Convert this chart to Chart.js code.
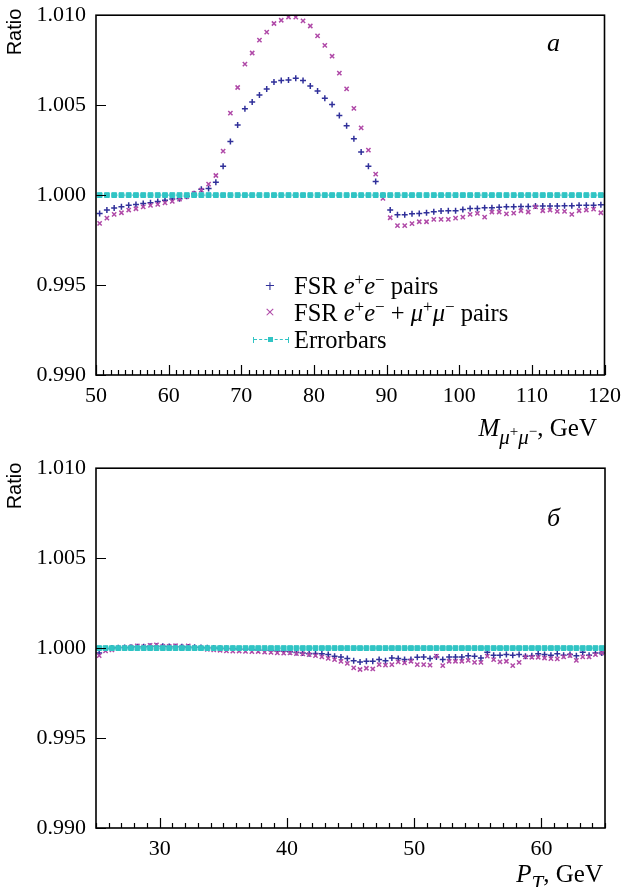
<!DOCTYPE html>
<html>
<head>
<meta charset="utf-8">
<title>FSR ratio</title>
<script src="https://cdn.jsdelivr.net/npm/chart.js"></script>
<style>
  body { margin: 0; background: #fff; overflow: hidden; }
  #page { position: relative; width: 624px; height: 887px; overflow: hidden; font-family: "Liberation Serif", "DejaVu Serif", serif; color: #000; }
  canvas { position: absolute; left: 0; }
  .txt { position: absolute; white-space: nowrap; font-size: 24.5px; line-height: 30px; }
  .ttl { position: absolute; white-space: nowrap; font-size: 25px; line-height: 30px; }
  .ratio { position: absolute; font-family: "Liberation Sans", Arial, sans-serif; font-size: 20px; white-space: nowrap; transform: translate(-50%, -50%) rotate(-90deg); }
  .panel { position: absolute; font-style: italic; font-size: 26px; line-height: 30px; }
  sup { font-size: 17px; vertical-align: 9px; line-height: 0; }
  sub { font-size: 21px; vertical-align: -8px; line-height: 0; }
  sub sup { font-size: 15px; vertical-align: 8px; }
  .mk { position: absolute; font-family: "DejaVu Sans", sans-serif; line-height: 10px; transform: translate(-50%, -50%); }
  .eb { position: absolute; width: 34px; height: 6px; border-left: 1px solid #30c4c4; border-right: 1px solid #30c4c4; }
  .eb .dash { position: absolute; left: 0; right: 0; top: 2px; border-top: 1px dashed #30c4c4; }
  .eb .sq { position: absolute; left: 14px; top: 0; width: 5px; height: 5px; background: #30c4c4; }
</style>
</head>
<body>
<div id="page">
  <canvas id="topChart" width="629" height="458" style="top:-8px"></canvas>
  <canvas id="botChart" width="624" height="442" style="top:445px"></canvas>

  <div class="ratio" style="left:14px; top:32px;">Ratio</div>
  <div class="ratio" style="left:14px; top:486px;">Ratio</div>

  <div class="panel" style="left:547px; top:28px;">а</div>
  <div class="panel" style="left:547px; top:503px;">б</div>

  <div class="mk" style="left:270px; top:286px; color:#30309a; font-size:13px;">+</div>
  <div class="mk" style="left:270px; top:312px; color:#b04aa8; font-size:13px;">×</div>
  <div class="eb" style="left:253px; top:337px;"><div class="dash"></div><div class="sq"></div></div>
  <div class="txt" style="left:294px; top:271px;">FSR <i>e</i><sup>+</sup><i>e</i><sup>−</sup> pairs</div>
  <div class="txt" style="left:294px; top:298px;">FSR <i>e</i><sup>+</sup><i>e</i><sup>−</sup> + <i>μ</i><sup>+</sup><i>μ</i><sup>−</sup> pairs</div>
  <div class="txt" style="left:294px; top:325px;">Errorbars</div>

  <div class="ttl" style="right:27px; top:413px;"><i>M</i><sub><i>μ</i><sup>+</sup><i>μ</i><sup>−</sup></sub>, GeV</div>
  <div class="ttl" style="right:21px; top:859px;"><i>P</i><sub><i>T</i></sub>, GeV</div>
</div>

<script>
// invariant mass bins (GeV)
const massX = [50.5, 51.5, 52.5, 53.5, 54.5, 55.5, 56.5, 57.5, 58.5, 59.5,
  60.5, 61.5, 62.5, 63.5, 64.5, 65.5, 66.5, 67.5, 68.5, 69.5,
  70.5, 71.5, 72.5, 73.5, 74.5, 75.5, 76.5, 77.5, 78.5, 79.5,
  80.5, 81.5, 82.5, 83.5, 84.5, 85.5, 86.5, 87.5, 88.5, 89.5,
  90.5, 91.5, 92.5, 93.5, 94.5, 95.5, 96.5, 97.5, 98.5, 99.5,
  100.5, 101.5, 102.5, 103.5, 104.5, 105.5, 106.5, 107.5, 108.5, 109.5,
  110.5, 111.5, 112.5, 113.5, 114.5, 115.5, 116.5, 117.5, 118.5, 119.5];

const massEE = [0.99898, 0.99917, 0.99928, 0.99935, 0.99944, 0.99948, 0.99954, 0.99957, 0.99965, 0.99972,
  0.99978, 0.99980, 0.99993, 1.00007, 1.00033, 1.00037, 1.00072, 1.00161, 1.00298, 1.00389,
  1.00480, 1.00517, 1.00557, 1.00590, 1.00628, 1.00637, 1.00640, 1.00650, 1.00637, 1.00606,
  1.00578, 1.00539, 1.00504, 1.00443, 1.00386, 1.00313, 1.00239, 1.00161, 1.00076, 0.99998,
  0.99917, 0.99891, 0.99891, 0.99896, 0.99898, 0.99902, 0.99907, 0.99911, 0.99913, 0.99913,
  0.99920, 0.99926, 0.99926, 0.99930, 0.99930, 0.99933, 0.99935, 0.99935, 0.99937, 0.99937,
  0.99940, 0.99940, 0.99940, 0.99940, 0.99941, 0.99941, 0.99944, 0.99944, 0.99944, 0.99946];

const massEEMM = [0.99843, 0.99872, 0.99893, 0.99902, 0.99917, 0.99924, 0.99935, 0.99943, 0.99948, 0.99957,
  0.99965, 0.99978, 0.99991, 1.00009, 1.00028, 1.00061, 1.00109, 1.00244, 1.00456, 1.00598,
  1.00728, 1.00790, 1.00861, 1.00906, 1.00954, 1.00972, 1.00990, 1.00989, 1.00968, 1.00940,
  1.00885, 1.00832, 1.00772, 1.00678, 1.00590, 1.00482, 1.00374, 1.00250, 1.00117, 0.99982,
  0.99874, 0.99830, 0.99830, 0.99841, 0.99852, 0.99852, 0.99865, 0.99865, 0.99865, 0.99872,
  0.99878, 0.99893, 0.99898, 0.99878, 0.99906, 0.99906, 0.99896, 0.99900, 0.99913, 0.99906,
  0.99935, 0.99913, 0.99917, 0.99910, 0.99910, 0.99893, 0.99913, 0.99917, 0.99922, 0.99902];

const massErr = [1, 1, 1, 1, 1, 1, 1, 1, 1, 1,  1, 1, 1, 1, 1, 1, 1, 1, 1, 1,
  1, 1, 1, 1, 1, 1, 1, 1, 1, 1,  1, 1, 1, 1, 1, 1, 1, 1, 1, 1,
  1, 1, 1, 1, 1, 1, 1, 1, 1, 1,  1, 1, 1, 1, 1, 1, 1, 1, 1, 1,
  1, 1, 1, 1, 1, 1, 1, 1, 1, 1];

// transverse momentum bins (GeV)
const ptX = [25.25, 25.75, 26.25, 26.75, 27.25, 27.75, 28.25, 28.75, 29.25, 29.75,
  30.25, 30.75, 31.25, 31.75, 32.25, 32.75, 33.25, 33.75, 34.25, 34.75,
  35.25, 35.75, 36.25, 36.75, 37.25, 37.75, 38.25, 38.75, 39.25, 39.75,
  40.25, 40.75, 41.25, 41.75, 42.25, 42.75, 43.25, 43.75, 44.25, 44.75,
  45.25, 45.75, 46.25, 46.75, 47.25, 47.75, 48.25, 48.75, 49.25, 49.75,
  50.25, 50.75, 51.25, 51.75, 52.25, 52.75, 53.25, 53.75, 54.25, 54.75,
  55.25, 55.75, 56.25, 56.75, 57.25, 57.75, 58.25, 58.75, 59.25, 59.75,
  60.25, 60.75, 61.25, 61.75, 62.25, 62.75, 63.25, 63.75, 64.25, 64.75];

const ptEE = [0.99973, 0.99997, 1.00000, 1.00002, 1.00003, 1.00005, 1.00007, 1.00008, 1.00010, 1.00010,
  1.00010, 1.00009, 1.00008, 1.00007, 1.00006, 1.00005, 1.00003, 1.00002, 1.00000, 0.99999,
  0.99998, 0.99996, 0.99995, 0.99993, 0.99991, 0.99990, 0.99988, 0.99986, 0.99984, 0.99982,
  0.99980, 0.99976, 0.99973, 0.99969, 0.99970, 0.99968, 0.99964, 0.99955, 0.99950, 0.99942,
  0.99929, 0.99923, 0.99927, 0.99927, 0.99936, 0.99929, 0.99945, 0.99942, 0.99936, 0.99936,
  0.99949, 0.99951, 0.99942, 0.99951, 0.99936, 0.99951, 0.99951, 0.99951, 0.99958, 0.99955,
  0.99945, 0.99977, 0.99960, 0.99960, 0.99964, 0.99960, 0.99964, 0.99955, 0.99958, 0.99968,
  0.99964, 0.99960, 0.99968, 0.99960, 0.99964, 0.99958, 0.99977, 0.99960, 0.99973, 0.99973];

const ptEEMM = [0.99958, 0.99985, 0.99990, 1.00000, 1.00003, 1.00006, 1.00012, 1.00008, 1.00015, 1.00018,
  1.00010, 1.00010, 1.00013, 1.00006, 1.00012, 1.00003, 0.99998, 0.99993, 0.99990, 0.99988,
  0.99985, 0.99983, 0.99984, 0.99982, 0.99980, 0.99981, 0.99978, 0.99976, 0.99973, 0.99972,
  0.99973, 0.99969, 0.99968, 0.99964, 0.99958, 0.99951, 0.99943, 0.99936, 0.99926, 0.99915,
  0.99890, 0.99881, 0.99888, 0.99884, 0.99908, 0.99905, 0.99908, 0.99923, 0.99918, 0.99927,
  0.99908, 0.99908, 0.99905, 0.99955, 0.99903, 0.99927, 0.99927, 0.99927, 0.99932, 0.99921,
  0.99921, 0.99955, 0.99936, 0.99923, 0.99927, 0.99903, 0.99921, 0.99951, 0.99949, 0.99949,
  0.99945, 0.99942, 0.99940, 0.99951, 0.99958, 0.99932, 0.99951, 0.99951, 0.99964, 0.99973];

const ptErr = [1, 1, 1, 1, 1, 1, 1, 1, 1, 1,  1, 1, 1, 1, 1, 1, 1, 1, 1, 1,
  1, 1, 1, 1, 1, 1, 1, 1, 1, 1,  1, 1, 1, 1, 1, 1, 1, 1, 1, 1,
  1, 1, 1, 1, 1, 1, 1, 1, 1, 1,  1, 1, 1, 1, 1, 1, 1, 1, 1, 1,
  1, 1, 1, 1, 1, 1, 1, 1, 1, 1,  1, 1, 1, 1, 1, 1, 1, 1, 1, 1];

const ratioTicks = [0.990, 0.995, 1.000, 1.005, 1.010];
const massTicks = [50, 60, 70, 80, 90, 100, 110, 120];
const ptTicks = [30, 40, 50, 60];

const BLUE = '#30309a';
const MAGENTA = '#b04aa8';
const CYAN = '#30c4c4';
const tickFont = { family: 'Liberation Serif', size: 22 };

const pts = (xs, ys) => xs.map((v, i) => ({ x: v, y: ys[i] }));

// box frame plus inward ticks (minor every 1 GeV on x)
const frameTicks = {
  id: 'frameTicks',
  afterDraw(chart) {
    const { ctx, chartArea: a, scales: { x, y } } = chart;
    ctx.save();
    ctx.strokeStyle = '#000';
    ctx.lineWidth = 1.6;
    ctx.strokeRect(a.left, a.top, a.right - a.left, a.bottom - a.top);
    ctx.lineWidth = 1.2;
    ctx.beginPath();
    for (let v = Math.ceil(x.min); v <= x.max; v++) {
      const px = Math.round(x.getPixelForValue(v)) + 0.5;
      const len = v % 10 === 0 ? 10 : 5;
      ctx.moveTo(px, a.bottom);
      ctx.lineTo(px, a.bottom - len);
    }
    ratioTicks.forEach(t => {
      const py = Math.round(y.getPixelForValue(t)) + 0.5;
      ctx.moveTo(a.left, py);
      ctx.lineTo(a.left + 10, py);
    });
    ctx.stroke();
    ctx.restore();
  }
};

function makeChart(id, xs, ee, eemm, err, xmin, xmax, xticks, pad, xAxisH) {
  return new Chart(document.getElementById(id), {
    type: 'scatter',
    data: {
      datasets: [
        {
          label: 'Errorbars', data: pts(xs, err), order: 0,
          showLine: true, borderColor: CYAN, borderWidth: 1, borderDash: [2, 2],
          pointStyle: 'rect', pointRadius: 3.4, pointBackgroundColor: CYAN, pointBorderColor: CYAN, pointBorderWidth: 1
        },
        {
          label: 'FSR e+e- + mu+mu- pairs', data: pts(xs, eemm), order: 1,
          pointStyle: 'crossRot', pointRadius: 3, pointBorderColor: MAGENTA, pointBorderWidth: 1.5
        },
        {
          label: 'FSR e+e- pairs', data: pts(xs, ee), order: 2,
          pointStyle: 'cross', pointRadius: 3, pointBorderColor: BLUE, pointBorderWidth: 1.5
        }
      ]
    },
    options: {
      responsive: false,
      animation: false,
      layout: { padding: pad },
      plugins: { legend: { display: false }, tooltip: { enabled: false } },
      scales: {
        x: {
          type: 'linear', min: xmin, max: xmax,
          grid: { display: false, drawTicks: false },
          border: { display: false },
          afterBuildTicks: s => { s.ticks = xticks.map(v => ({ value: v })); },
          afterFit: s => { s.height = xAxisH; },
          ticks: { font: tickFont, color: '#000', padding: 8, maxRotation: 0, autoSkip: false }
        },
        y: {
          min: 0.990, max: 1.010,
          grid: { display: false, drawTicks: false },
          border: { display: false },
          afterBuildTicks: s => { s.ticks = ratioTicks.map(v => ({ value: v })); },
          afterFit: s => { s.width = 96; },
          ticks: { font: tickFont, color: '#000', padding: 10, callback: v => v.toFixed(3) }
        }
      }
    },
    plugins: [frameTicks]
  });
}

makeChart('topChart', massX, massEE, massEEMM, massErr, 50, 120, massTicks,
  { left: 0, right: 19, top: 14, bottom: 0 }, 75);
makeChart('botChart', ptX, ptEE, ptEEMM, ptErr, 25, 65, ptTicks,
  { left: 0, right: 19, top: 17, bottom: 0 }, 59);
</script>
</body>
</html>
